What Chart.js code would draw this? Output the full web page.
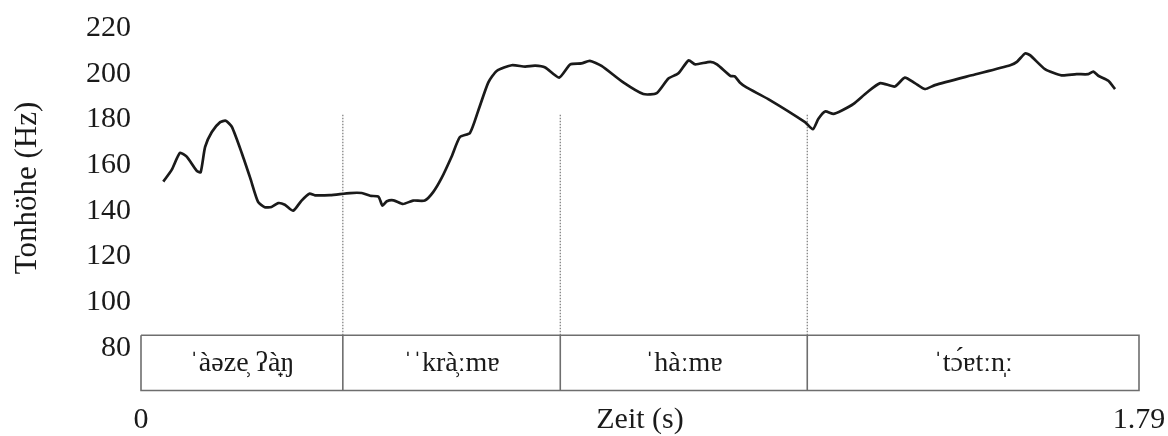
<!DOCTYPE html>
<html>
<head>
<meta charset="utf-8">
<script src="https://cdn.jsdelivr.net/npm/chart.js@4.4.1/dist/chart.umd.min.js"></script>
<style>
  html, body { margin: 0; padding: 0; background: #fff; }
  #wrap { width: 1168px; height: 436px; }
</style>
</head>
<body>
<div id="wrap"><canvas id="pitchChart"></canvas></div>
<script>
// Pitch track (seconds / Hz).
const timeS = [
  0.040, 0.055, 0.070, 0.082, 0.100, 0.107, 0.115, 0.127, 0.142, 0.152,
  0.163, 0.181, 0.196, 0.210, 0.222, 0.234, 0.246, 0.258, 0.273, 0.288,
  0.302, 0.312, 0.339, 0.375, 0.396, 0.411, 0.426, 0.433, 0.441, 0.453,
  0.470, 0.488, 0.509, 0.524, 0.539, 0.557, 0.572, 0.590, 0.605, 0.623,
  0.638, 0.665, 0.689, 0.707, 0.725, 0.750, 0.770, 0.790, 0.805, 0.826,
  0.865, 0.901, 0.925, 0.946, 0.964, 0.982, 0.994, 1.021, 1.033, 1.057,
  1.065, 1.074, 1.086, 1.125, 1.191, 1.205, 1.215, 1.227, 1.242, 1.257,
  1.278, 1.302, 1.326, 1.352, 1.370, 1.388, 1.406, 1.424, 1.490, 1.559,
  1.571, 1.586, 1.595, 1.622, 1.651, 1.678, 1.699, 1.708, 1.717, 1.735,
  1.747
];
const pitchHz = [
  152.8, 157.9, 165.4, 163.7, 157.5, 156.9, 168.0, 174.5, 178.8, 179.4,
  176.7, 165.1, 154.3, 143.9, 141.6, 141.7, 143.4, 142.7, 140.1, 144.5,
  147.5, 146.8, 146.9, 147.8, 147.8, 146.6, 146.2, 142.3, 144.2, 144.6,
  143.0, 144.5, 144.5, 148.2, 154.3, 163.7, 172.3, 174.1, 183.9, 196.2,
  201.2, 203.7, 203.1, 203.5, 202.7, 198.3, 204.1, 204.5, 205.6, 203.4,
  196.2, 191.1, 191.5, 197.9, 200.2, 205.8, 204.1, 205.2, 204.1, 199.1,
  198.8, 196.2, 194.0, 188.9, 178.8, 175.7, 180.3, 183.5, 182.4, 183.9,
  186.8, 191.8, 195.9, 194.4, 198.3, 195.9, 193.3, 195.0, 199.3, 203.7,
  205.2, 208.9, 208.0, 201.9, 199.3, 199.8, 199.8, 200.9, 199.1, 196.9,
  193.3
];

// Word segmentation (seconds) and transcriptions.
const segmentBounds = [0, 0.362, 0.752, 1.195, 1.79];
const segmentLabels = ['ˈàəze̹ ʔà̟ŋ', 'ˈˈkrà̹ːmɐ', 'ˈhàːmɐ', 'ˈtɔ́ɐtːn̩ː'];

// Transcription box and boundary markers, in Hz.
const boxTopHz = 85.6;
const boxBottomHz = 61.4;
const markerTopHz = 182;

const yTicks = [80, 100, 120, 140, 160, 180, 200, 220];
const xTickValues = [0, 0.895, 1.79];
const xTickLabels = ['0', 'Zeit (s)', '1.79'];

const SERIF = "'Liberation Serif', 'DejaVu Serif', serif";
const INK = '#1a1a1a';
const BOX_GREY = '#6e6e6e';

const curve = timeS.map((t, i) => ({ x: t, y: pitchHz[i] }));
const t0 = segmentBounds[0];
const t1 = segmentBounds[segmentBounds.length - 1];

const datasets = [
  {
    data: curve,
    borderColor: INK,
    borderWidth: 2.7,
    pointRadius: 0,
    tension: 0.2,
    fill: false
  },
  {
    // transcription box outline
    data: [
      { x: t0, y: boxTopHz }, { x: t1, y: boxTopHz },
      { x: t1, y: boxBottomHz }, { x: t0, y: boxBottomHz },
      { x: t0, y: boxTopHz }
    ],
    borderColor: BOX_GREY,
    borderWidth: 1.6,
    pointRadius: 0,
    tension: 0,
    clip: false
  }
];

segmentBounds.slice(1, -1).forEach((b) => {
  datasets.push({
    data: [{ x: b, y: boxBottomHz }, { x: b, y: boxTopHz }],
    borderColor: BOX_GREY,
    borderWidth: 1.6,
    pointRadius: 0,
    clip: false
  });
  datasets.push({
    data: [{ x: b, y: boxTopHz }, { x: b, y: markerTopHz }],
    borderColor: '#7a7a7a',
    borderWidth: 1.2,
    borderDash: [1.5, 1.5],
    pointRadius: 0,
    clip: false
  });
});

// Writes the transcription of each word in the middle of its cell.
const segmentTextPlugin = {
  id: 'segmentText',
  afterDatasetsDraw(chart) {
    const { ctx, scales } = chart;
    const yMid = scales.y.getPixelForValue((boxTopHz + boxBottomHz) / 2);
    ctx.save();
    ctx.fillStyle = INK;
    ctx.font = `28px ${SERIF}`;
    ctx.textAlign = 'center';
    ctx.textBaseline = 'middle';
    segmentLabels.forEach((label, i) => {
      const x = (scales.x.getPixelForValue(segmentBounds[i]) + scales.x.getPixelForValue(segmentBounds[i + 1])) / 2;
      ctx.fillText(label, x, yMid + 1);
    });
    ctx.restore();
  }
};

new Chart(document.getElementById('pitchChart'), {
  type: 'line',
  data: { datasets },
  options: {
    responsive: true,
    maintainAspectRatio: false,
    animation: false,
    devicePixelRatio: 1,
    layout: { padding: { top: 25, right: 29, left: 0, bottom: 0 } },
    plugins: { legend: { display: false }, tooltip: { enabled: false } },
    scales: {
      x: {
        type: 'linear',
        min: 0,
        max: 1.79,
        border: { display: false },
        grid: { display: false, drawTicks: false },
        afterBuildTicks: (scale) => { scale.ticks = xTickValues.map((v) => ({ value: v })); },
        afterFit: (scale) => {
          // labels sit far below the plot; keep that gap out of the side padding
          scale.height = 88;
          scale.paddingLeft = 0;
          scale.paddingRight = 0;
        },
        ticks: {
          padding: 54,
          maxRotation: 0,
          autoSkip: false,
          color: INK,
          font: { family: SERIF, size: 30 },
          callback: (_v, i) => xTickLabels[i]
        }
      },
      y: {
        min: 80,
        max: 220,
        border: { display: false },
        grid: { display: false, drawTicks: false },
        afterBuildTicks: (scale) => { scale.ticks = yTicks.map((v) => ({ value: v })); },
        afterFit: (scale) => { scale.width = 141; },
        ticks: {
          padding: 10,
          color: INK,
          font: { family: SERIF, size: 30 }
        },
        title: {
          display: true,
          text: 'Tonhöhe (Hz)',
          color: INK,
          padding: { top: 9, bottom: 31 },
          font: { family: SERIF, size: 31 }
        }
      }
    }
  },
  plugins: [segmentTextPlugin]
});
</script>
</body>
</html>
